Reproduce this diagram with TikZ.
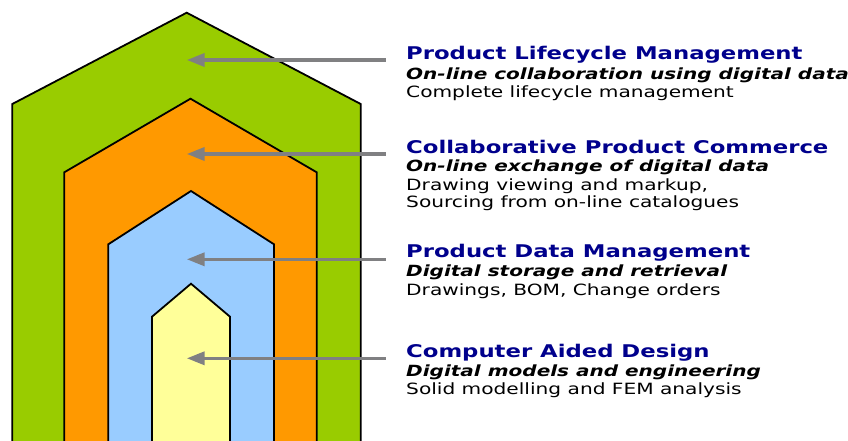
\documentclass[tikz,border=0pt]{standalone}
\usepackage{fontspec}
\usepackage{xcolor}
\usepackage{tikz}
\usetikzlibrary{arrows.meta,positioning}
\newfontfamily\layerfont[FakeStretch=1.3]{DejaVu Sans}

\definecolor{plmgreen}{RGB}{153,204,0}
\definecolor{cpcorange}{RGB}{255,153,0}
\definecolor{pdmblue}{RGB}{153,204,255}
\definecolor{cadyellow}{RGB}{255,255,153}
\definecolor{titlenavy}{RGB}{0,0,140}
\definecolor{pointergray}{RGB}{128,128,130}

\tikzset{
    layer/.style={draw=black, line width=1.8pt, line join=miter},
    pointer/.style={draw=pointergray, line width=3.5pt, -{Triangle[length=18pt,width=13pt]}},
    title/.style={anchor=base west, inner sep=0pt, text=titlenavy, font=\layerfont\fontsize{17.5}{20}\selectfont\bfseries},
    motto/.style={anchor=base west, inner sep=0pt, font=\layerfont\fontsize{15.4}{18}\selectfont\bfseries\itshape},
    detail/.style={anchor=base west, inner sep=0pt, font=\layerfont\fontsize{15.5}{18}\selectfont}
}

\begin{document}
\begin{tikzpicture}[x=1pt,y=-1pt]
    \useasboundingbox (0,0) rectangle (848,441);

    %Layers
    \fill[plmgreen, layer]  (12.3,450) -- (12.3,104) -- (186.7,12.7) -- (360.7,104) -- (360.7,450) -- cycle;
    \fill[cpcorange, layer] (64.3,450) -- (64.3,172.3) -- (190.5,98.7) -- (316.7,172.3) -- (316.7,450) -- cycle;
    \fill[pdmblue, layer]   (108.3,450) -- (108.3,244.3) -- (191,191) -- (274,244.3) -- (274,450) -- cycle;
    \fill[cadyellow, layer] (152,450) -- (152,316.7) -- (191,283.7) -- (230,316.7) -- (230,450) -- cycle;

    %Nodes
    \node (plm_title)  [title]  at (406,60)    {Product Lifecycle Management};
    \node (plm_motto)  [motto]  at (406,79.3)  {On-line collaboration using digital data};
    \node (plm_detail) [detail] at (406,97.7)  {Complete lifecycle management};

    \node (cpc_title)  [title]  at (406,153.3) {Collaborative Product Commerce};
    \node (cpc_motto)  [motto]  at (406,171.7) {On-line exchange of digital data};
    \node (cpc_detail) [detail] at (406,190)   {Drawing viewing and markup,};
    \node (cpc_more)   [detail] at (406,207.7) {Sourcing from on-line catalogues};

    \node (pdm_title)  [title]  at (406,257.7) {Product Data Management};
    \node (pdm_motto)  [motto]  at (406,276.7) {Digital storage and retrieval};
    \node (pdm_detail) [detail] at (406,295)   {Drawings, BOM, Change orders};

    \node (cad_title)  [title]  at (406,357.7) {Computer Aided Design};
    \node (cad_motto)  [motto]  at (406,376.7) {Digital models and engineering};
    \node (cad_detail) [detail] at (406,394.3) {Solid modelling and FEM analysis};

    %Pointer ends
    \coordinate (plm_tail) at (385.7,60);    \coordinate (plm_tip) at (186.7,60);
    \coordinate (cpc_tail) at (385.7,154);   \coordinate (cpc_tip) at (186.7,154);
    \coordinate (pdm_tail) at (385.7,259.3); \coordinate (pdm_tip) at (186.7,259.3);
    \coordinate (cad_tail) at (385.7,358.3); \coordinate (cad_tip) at (186.7,358.3);

    %Lines
    \draw[pointer] (plm_tail) -- (plm_tip);
    \draw[pointer] (cpc_tail) -- (cpc_tip);
    \draw[pointer] (pdm_tail) -- (pdm_tip);
    \draw[pointer] (cad_tail) -- (cad_tip);
\end{tikzpicture}
\end{document}
